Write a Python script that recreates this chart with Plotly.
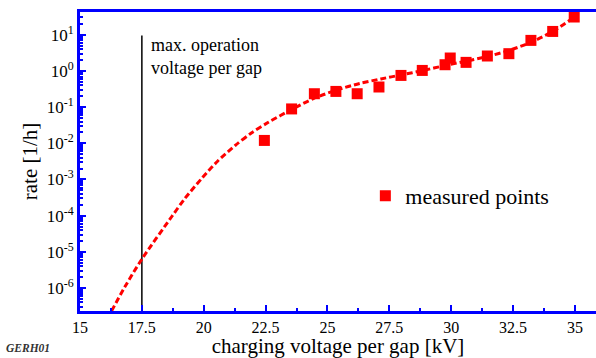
import plotly.graph_objects as go

# measured data points
meas_kv = [22.45, 23.55, 24.47, 25.34, 26.2, 27.08, 27.97, 28.83, 29.75, 29.96,
           30.6, 31.46, 32.33, 33.22, 34.1, 34.97]
meas_rate = [0.012, 0.089, 0.234, 0.271, 0.234, 0.359, 0.75, 1.03, 1.48, 2.27,
             1.72, 2.58, 2.99, 6.96, 12.3, 30.8]

# fit curve
fit_kv = [16.1, 16.82, 17.5, 18.71, 19.24, 19.92, 20.56, 21.27, 21.91, 22.61,
          23.54, 24.45, 25.4, 26.3, 27.16, 28.0, 28.85, 29.75, 30.6, 31.48,
          32.35, 33.25, 34.1, 35.0]
fit_rate = [1.4e-7, 1.1e-6, 6.3e-6, 9.5e-5, 3.0e-4, 1.07e-3, 3.2e-3, 8.7e-3,
            0.019, 0.038, 0.085, 0.174, 0.30, 0.45, 0.60, 0.78, 1.02, 1.41,
            1.86, 2.51, 3.7, 6.3, 12.3, 31.6]

# max operation voltage marker
op_kv = [17.5, 17.5]
op_rate = [1e-8, 9.5]

x_ticks = [15, 17.5, 20, 22.5, 25, 27.5, 30, 32.5, 35]
x_ticktext = ["15", "17.5", "20", "22.5", "25", "27.5", "30", "32.5", "35"]
y_ticks = [1e-6, 1e-5, 1e-4, 1e-3, 1e-2, 1e-1, 1e0, 1e1]
y_ticktext = ["10<sup>-6</sup>", "10<sup>-5</sup>", "10<sup>-4</sup>", "10<sup>-3</sup>",
              "10<sup>-2</sup>", "10<sup>-1</sup>", "10<sup>0</sup>", "10<sup>1</sup>"]

FONT = "Liberation Serif, 'Times New Roman', Times, serif"
BLUE = "#0000ff"
RED = "#ff0000"

fig = go.Figure()
fig.add_trace(go.Scatter(x=op_kv, y=op_rate, mode="lines",
                         line=dict(color="black", width=1.5), showlegend=False,
                         hoverinfo="skip"))
fig.add_trace(go.Scatter(x=fit_kv, y=fit_rate, mode="lines",
                         line=dict(color=RED, width=3, dash="6px,3px", shape="spline",
                                   smoothing=0.8),
                         showlegend=False))
fig.add_trace(go.Scatter(x=meas_kv, y=meas_rate, mode="markers", name="measured points",
                         marker=dict(symbol="square", size=11, color=RED)))

fig.update_layout(
    width=596, height=358,
    margin=dict(l=80, r=0, t=12, b=47),
    paper_bgcolor="white", plot_bgcolor="white",
    font=dict(family=FONT, color="black", size=16),
    legend=dict(x=0.553, y=0.385, xanchor="left", yanchor="middle",
                font=dict(size=22, family=FONT), bgcolor="rgba(0,0,0,0)"),
    annotations=[
        dict(text="max. operation<br>voltage per gap", x=0.133, y=0.93, xref="paper", yref="paper",
             xanchor="left", yanchor="top", align="left", showarrow=False,
             font=dict(size=18, family=FONT)),
        dict(text="<b><i>GERH01</i></b>", x=-0.148, y=-0.125, xref="paper", yref="paper",
             xanchor="left", yanchor="middle", showarrow=False,
             font=dict(size=11.5, family=FONT, color="#333333")),
    ],
)
fig.update_xaxes(
    range=[15, 35.85], showline=True, linecolor=BLUE, linewidth=3, mirror=True,
    showgrid=False, zeroline=False,
    tickmode="array", tickvals=x_ticks, ticktext=x_ticktext,
    ticks="inside", ticklen=6, tickwidth=1.5, tickcolor=BLUE,
    minor=dict(ticks="inside", ticklen=3, tickwidth=1.5, tickcolor=BLUE, dtick=1.25, tick0=15),
    tickfont=dict(size=16, family=FONT),
    title=dict(text="charging voltage per gap [kV]", font=dict(size=21, family=FONT), standoff=6),
)
fig.update_yaxes(
    type="log", range=[-6.633, 1.627], showline=True, linecolor=BLUE, linewidth=3, mirror=False,
    showgrid=False, zeroline=False,
    tickmode="array", tickvals=y_ticks, ticktext=y_ticktext,
    ticks="inside", ticklen=6, tickwidth=1.5, tickcolor=BLUE,
    minor=dict(ticks="inside", ticklen=3, tickwidth=1.5, tickcolor=BLUE, dtick="D1"),
    tickfont=dict(size=17, family=FONT),
    title=dict(text="rate [1/h]", font=dict(size=21, family=FONT), standoff=4),
)

fig.write_html("out.html")
